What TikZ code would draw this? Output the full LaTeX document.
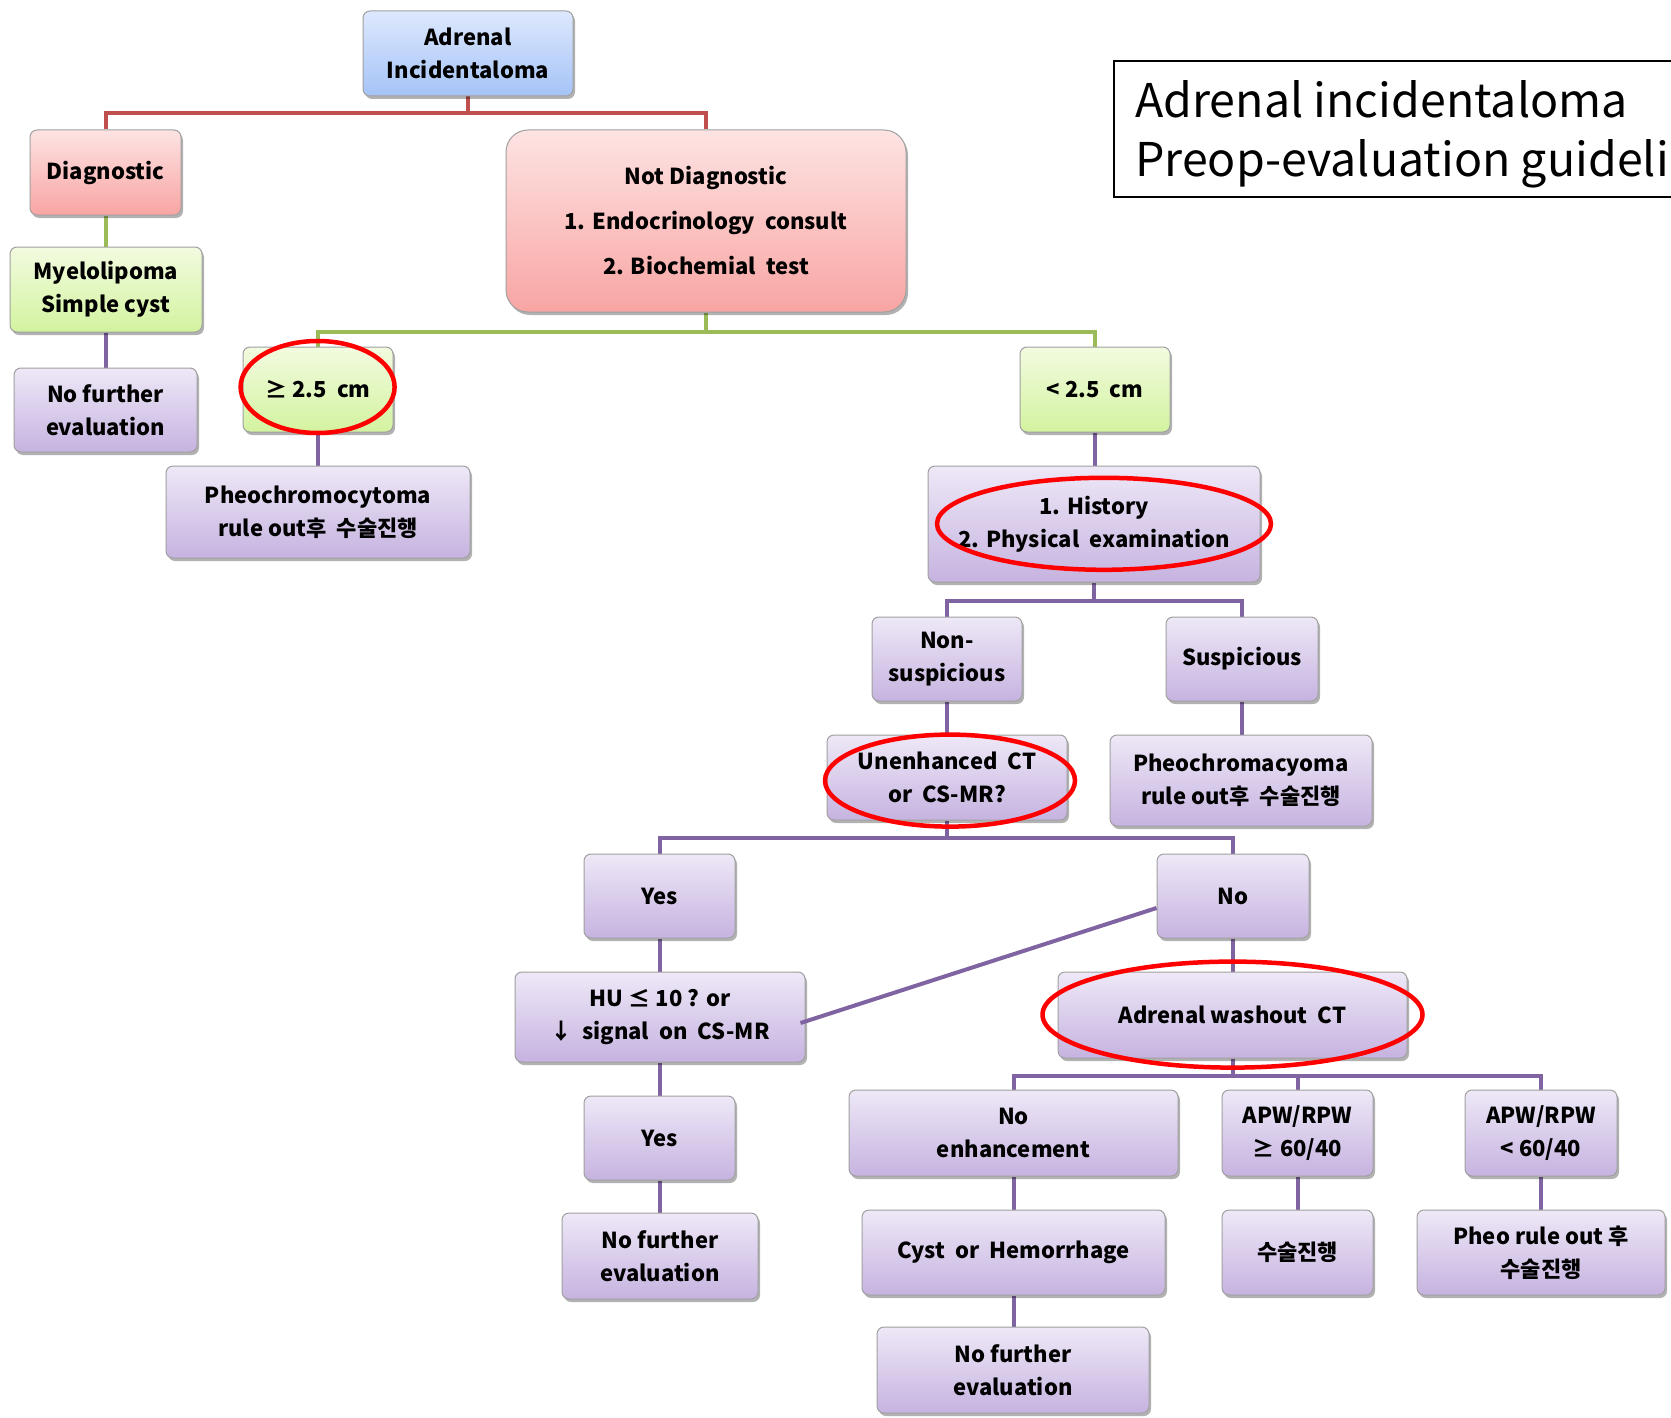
\documentclass[tikz,border=0pt]{standalone}
\usepackage{fontspec}
\setmainfont{Noto Sans CJK KR}
\usetikzlibrary{shadows,calc}
\pgfdeclarelayer{bg}
\pgfsetlayers{bg,main}
\definecolor{lnred}{HTML}{C0504D}
\definecolor{lngreen}{HTML}{9BBB59}
\definecolor{lnpurple}{HTML}{8064A2}
\definecolor{bluetop}{HTML}{DDE8FD}
\definecolor{bluebot}{HTML}{A5C3F7}
\definecolor{redtop}{HTML}{FDE3E3}
\definecolor{redbot}{HTML}{F8A5A3}
\definecolor{greentop}{HTML}{F2FBE0}
\definecolor{greenbot}{HTML}{D3F39F}
\definecolor{purptop}{HTML}{EEE8F7}
\definecolor{purpbot}{HTML}{C6B3E0}
\definecolor{boxedge}{HTML}{A0A0A0}
\tikzset{
  box/.style={draw=boxedge, line width=1pt, rounded corners=7pt, align=center,
    inner sep=0pt, font=\bfseries\fontsize{22}{33}\selectfont,
    drop shadow={shadow xshift=2pt, shadow yshift=-3pt, opacity=0.3, fill=black}},
  sz/.style 2 args={minimum width=#1pt, minimum height=#2pt},
  bluebox/.style={box, top color=bluetop, bottom color=bluebot},
  redbox/.style={box, top color=redtop, bottom color=redbot},
  greenbox/.style={box, top color=greentop, bottom color=greenbot},
  purplebox/.style={box, top color=purptop, bottom color=purpbot},
  rline/.style={draw=lnred, line width=4pt},
  gline/.style={draw=lngreen, line width=4pt},
  pline/.style={draw=lnpurple, line width=4pt},
  oval/.style={draw=red, line width=4.5pt},
  titletext/.style={anchor=base west, inner sep=0pt, font=\fontsize{46.5}{46.5}\selectfont},
}
\begin{document}
\begin{tikzpicture}[x=1pt,y=-1pt]
\useasboundingbox (0,0) rectangle (1671,1418);
% boxes
\node[bluebox, sz={210}{85}] (top) at (468,53.5) {Adrenal\\Incidentaloma};
\node[redbox, sz={151}{85}] (diag) at (105.5,172.5) {Diagnostic};
\node[redbox, sz={400}{182}, rounded corners=22pt, font=\bfseries\fontsize{22}{45}\selectfont] (notdiag) at (706,221) {Not Diagnostic\\1. Endocrinology\ \ consult\\2. Biochemial\ \ test};
\node[greenbox, sz={192}{85}] (myelo) at (106,289.5) {Myelolipoma\\Simple cyst};
\node[purplebox, sz={183}{84}] (nf1) at (105.5,410) {No further\\evaluation};
\node[greenbox, sz={150}{85}] (ge) at (318,389.5) {≥ 2.5\ \ cm};
\node[greenbox, sz={150}{85}] (lt) at (1095,389.5) {< 2.5\ \ cm};
\node[purplebox, sz={304}{92}] (pheo1) at (318,512) {Pheochromocytoma\\rule out후\ \ 수술진행};
\node[purplebox, sz={332}{116}] (hist) at (1094,524) {1. History\\2. Physical\ \ examination};
\node[purplebox, sz={150}{84}] (nons) at (947,659) {Non-\\suspicious};
\node[purplebox, sz={152}{84}] (susp) at (1242,659) {Suspicious};
\node[purplebox, sz={240}{85}] (unenh) at (947,777.5) {Unenhanced\ \ CT\\or\ \ CS-MR?};
\node[purplebox, sz={262}{91}] (pheo2) at (1241,780.5) {Pheochromacyoma\\rule out후\ \ 수술진행};
\node[purplebox, sz={151}{84}] (yes1) at (659.5,896) {Yes};
\node[purplebox, sz={152}{84}] (no) at (1233,896) {No};
\node[purplebox, sz={290}{90}] (hu) at (660,1017) {HU ≤ 10 ? or\\↓\ \ signal\ \ on\ \ CS-MR};
\node[purplebox, sz={349}{86}] (wash) at (1232.5,1015) {Adrenal washout\ \ CT};
\node[purplebox, sz={151}{84}] (yes2) at (659.5,1138) {Yes};
\node[purplebox, sz={329}{86}] (noenh) at (1013.5,1133) {No\\enhancement};
\node[purplebox, sz={151}{86}] (apw1) at (1297.5,1133) {APW/RPW\\≥ 60/40};
\node[purplebox, sz={152}{86}] (apw2) at (1541,1133) {APW/RPW\\< 60/40};
\node[purplebox, sz={196}{86}] (nf2) at (660,1256) {No further\\evaluation};
\node[purplebox, sz={303}{85}] (cyst) at (1013.5,1252.5) {Cyst\ \ or\ \ Hemorrhage};
\node[purplebox, sz={151}{85}] (surg) at (1297.5,1252.5) {수술진행};
\node[purplebox, sz={248}{85}] (pheo3) at (1541,1252.5) {Pheo rule out 후\\수술진행};
\node[purplebox, sz={272}{86}] (nf3) at (1013,1370) {No further\\evaluation};
% connectors
\begin{pgfonlayer}{bg}
\draw[rline] (top.south) -- (top.south |- 0,113);
\draw[rline] (diag.north) -- (diag.north |- 0,113) -- (notdiag.north |- 0,113) -- (notdiag.north);
\draw[gline] (diag.south) -- (diag.south |- myelo.north);
\draw[gline] (notdiag.south) -- (notdiag.south |- 0,331.5);
\draw[gline] (ge.north) -- (ge.north |- 0,331.5) -- (lt.north |- 0,331.5) -- (lt.north);
\draw[pline] (myelo.south) -- (myelo.south |- nf1.north);
\draw[pline] (ge.south) -- (ge.south |- pheo1.north);
\draw[pline] (lt.south) -- (lt.south |- hist.north);
\draw[pline] (hist.south) -- (hist.south |- 0,601);
\draw[pline] (nons.north) -- (nons.north |- 0,601) -- (susp.north |- 0,601) -- (susp.north);
\draw[pline] (nons.south) -- (nons.south |- unenh.north);
\draw[pline] (susp.south) -- (susp.south |- pheo2.north);
\draw[pline] (unenh.south) -- (unenh.south |- 0,837.6);
\draw[pline] (yes1.north) -- (yes1.north |- 0,837.6) -- (no.north |- 0,837.6) -- (no.north);
\draw[pline] (yes1.south) -- (yes1.south |- hu.north);
\draw[pline] (no.south) -- (no.south |- wash.north);
\draw[pline] (hu.south) -- (hu.south |- yes2.north);
\draw[pline] (yes2.south) -- (yes2.south |- nf2.north);
\draw[pline] (wash.south) -- (wash.south |- 0,1076);
\draw[pline] (noenh.north) -- (noenh.north |- 0,1076) -- (apw2.north |- 0,1076) -- (apw2.north);
\draw[pline] (apw1.north) -- (apw1.north |- 0,1076);
\draw[pline] (noenh.south) -- (noenh.south |- cyst.north);
\draw[pline] (cyst.south) -- (cyst.south |- nf3.north);
\draw[pline] (apw1.south) -- (apw1.south |- surg.north);
\draw[pline] (apw2.south) -- (apw2.south |- pheo3.north);
\end{pgfonlayer}
\draw[pline] ([xshift=-5pt,yshift=-6pt]hu.east) -- ([yshift=-12pt]no.west);
% highlight ellipses
\draw[oval] (317.6,387) ellipse [x radius=77, y radius=46];
\draw[oval] (1104,523.8) ellipse [x radius=167, y radius=46];
\draw[oval] (950,780.6) ellipse [x radius=125, y radius=46];
\draw[oval] (1232.5,1014.6) ellipse [x radius=190, y radius=53];
% title
\begin{scope}
\clip (0,0) rectangle (1671,1418);
\draw[line width=2pt] (1114,61) rectangle (1720,197);
\node[titletext] (t1) at (1135,118) {Adrenal incidentaloma};
\node[titletext] (t2) at (1135,176) {Preop-evaluation guideline};
\end{scope}
\end{tikzpicture}
\end{document}
